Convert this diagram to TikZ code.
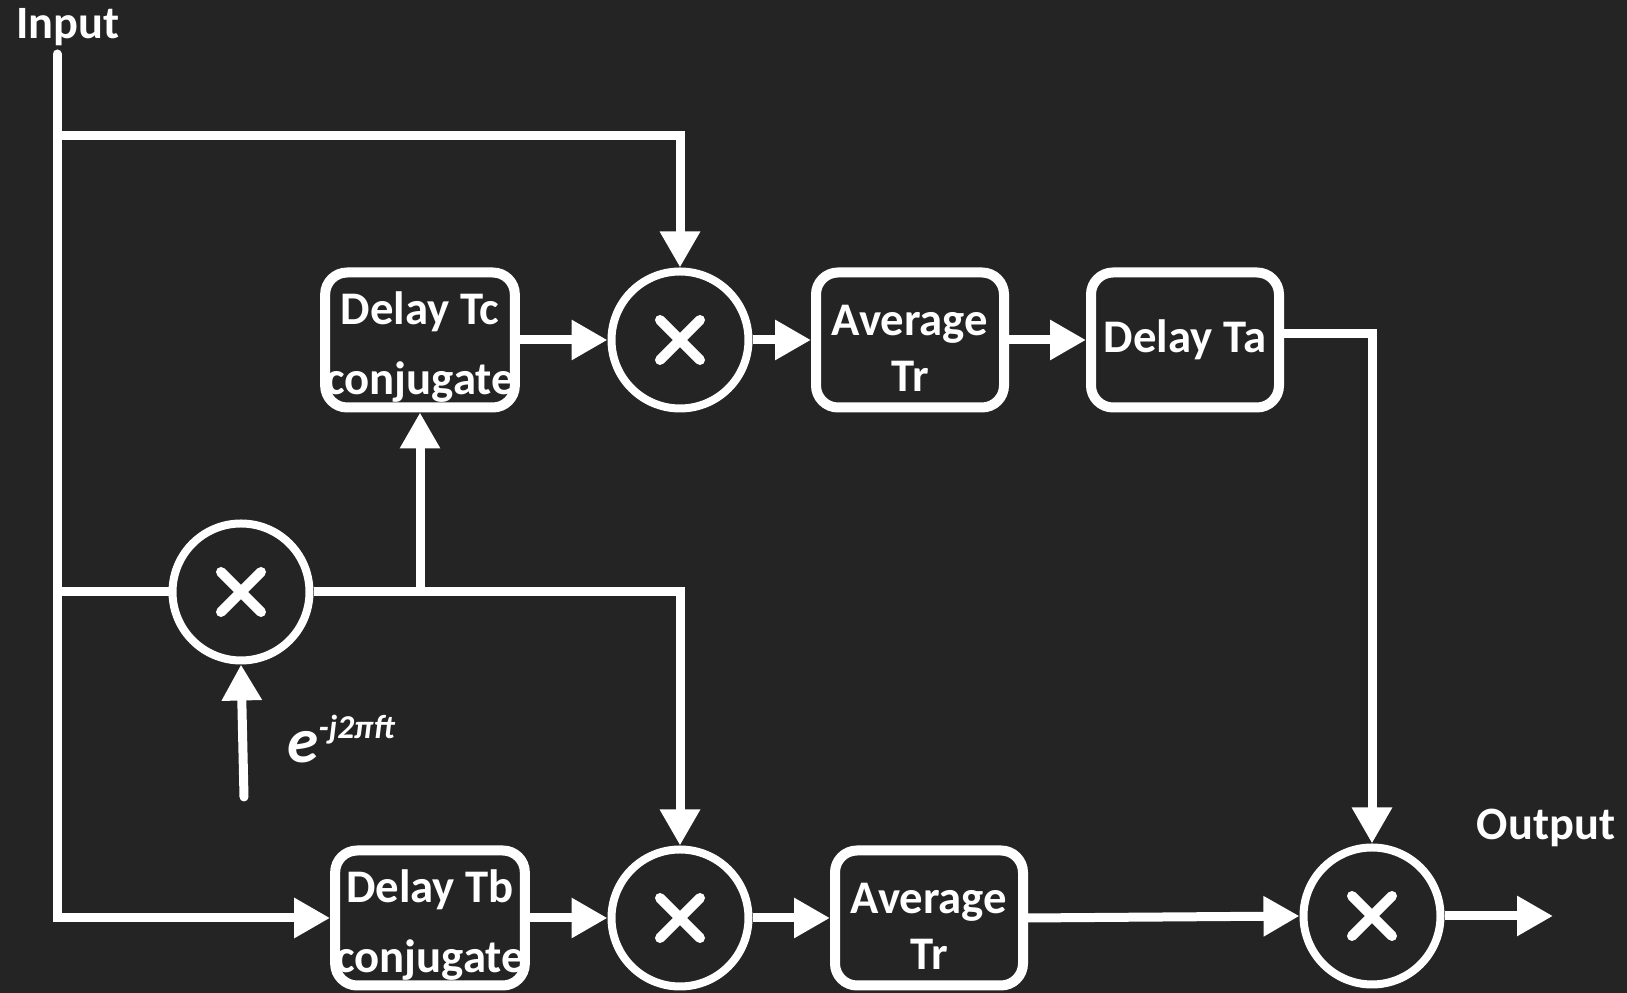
\documentclass[tikz,border=0pt]{standalone}
\usepackage{fontspec}
\setmainfont{Carlito}
\usetikzlibrary{arrows.meta}
\definecolor{board}{RGB}{36,36,36}
\newcommand{\tallrow}{\rule{0pt}{0.47cm}}

\begin{document}
\begin{tikzpicture}[line width=0.09cm,white,>={Triangle[length=3.6mm,width=3.8mm]},
  blk/.style={draw,rounded corners=0.22cm,line width=0.1cm,minimum width=1.88cm,minimum height=1.35cm,
    align=center,inner sep=0pt,font=\bfseries\fontsize{13.3}{20}\selectfont},
  avgblk/.style={blk,font=\bfseries\fontsize{13.3}{16}\selectfont},
  mult/.style={circle,draw,line width=0.08cm,minimum size=1.37cm,inner sep=0pt,
    path picture={\draw[line width=0.1cm,line cap=round]
      ([shift={(-0.2,-0.2)}]path picture bounding box.center)--([shift={(0.2,0.2)}]path picture bounding box.center)
      ([shift={(-0.2,0.2)}]path picture bounding box.center)--([shift={(0.2,-0.2)}]path picture bounding box.center);}},
  lbl/.style={font=\bfseries\fontsize{13.2}{15}\selectfont}]
  \fill[board] (0,0) rectangle (16.27,9.93);
  \useasboundingbox (0,0) rectangle (16.27,9.93);
  % upper branch
  \node[lbl] (inlbl) at (0.68,9.66) {Input};
  \coordinate (inTop) at (0.57,9.39);
  \coordinate (tapTop) at (0.57,8.57);
  \node[blk] (dtc) at (4.20,6.53) {\tallrow Delay Tc\\conjugate};
  \node[mult] (m1) at (6.80,6.53) {};
  \node[avgblk] (avg1) at (9.10,6.53) {\tallrow Average\\Tr};
  \node[blk] (dta) at (11.85,6.53) {Delay Ta};
  % frequency shift
  \node[mult] (m0) at (2.41,4.01) {};
  \coordinate (ein) at (2.44,1.96);
  \node[font=\bfseries\itshape,anchor=base west,inner sep=0pt] (elbl) at (2.83,2.30)
    {{\fontsize{18}{18}\selectfont e}\raisebox{7pt}{\fontsize{9.5}{10}\selectfont -j2πft}};
  % lower branch
  \node[blk] (dtb) at (4.30,0.75) {\tallrow Delay Tb\\conjugate};
  \node[mult] (m2) at (6.80,0.75) {};
  \node[avgblk] (avg2) at (9.29,0.75) {\tallrow Average\\Tr};
  \node[mult] (m3) at (13.72,0.77) {};
  \coordinate (outEnd) at (15.53,0.77);
  \node[lbl] (outlbl) at (15.46,1.65) {Output};
  % connections
  \draw[->,line cap=round] (inTop) |- (dtb.west);
  \draw[->] (tapTop) -| (m1.north);
  \draw (inTop |- m0) -- (m0.west);
  \draw[->] (dtc.east) -- (m1.west);
  \draw[->] (m1.east) -- (avg1.west);
  \draw[->] (avg1.east) -- (dta.west);
  \draw[->] ([yshift=0.06cm]dta.east) -| (m3.north);
  \draw[->] (m0.east) -| (m2.north);
  \draw[->] (m0.east -| dtc.south) -- (dtc.south);
  \draw[->,line cap=round] (ein) -- (m0.south);
  \draw[->] (dtb.east) -- (m2.west);
  \draw[->] (m2.east) -- (avg2.west);
  \draw[->] (avg2.east) -- (m3.west);
  \draw[->] (m3.east) -- (outEnd);
\end{tikzpicture}
\end{document}
